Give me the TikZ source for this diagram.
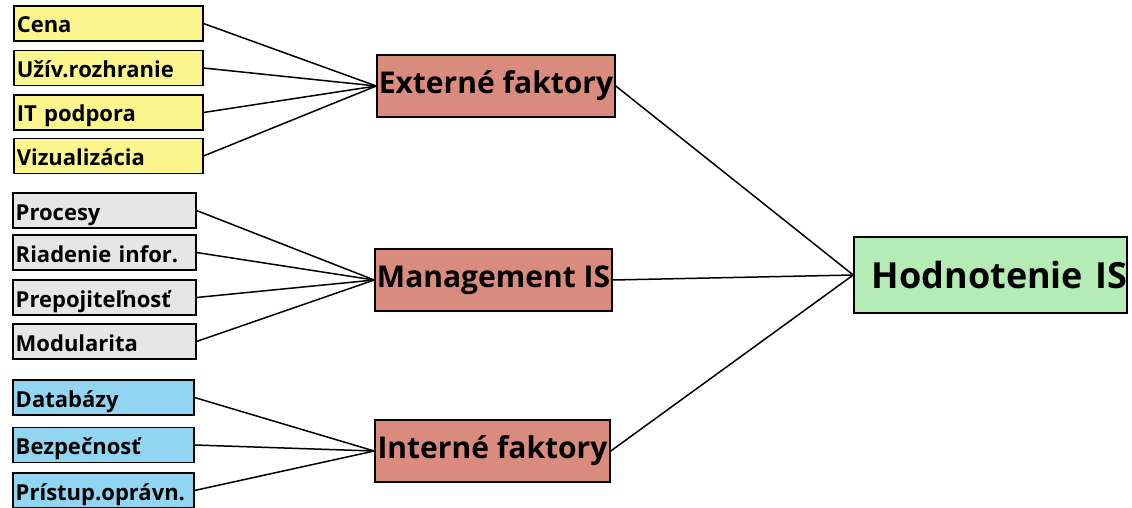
\documentclass[tikz,border=0pt]{standalone}
\usepackage{fontspec}
\setmainfont{Open Sans}

\definecolor{yellowbox}{RGB}{250,245,140}
\definecolor{greybox}{RGB}{230,230,230}
\definecolor{bluebox}{RGB}{145,213,240}
\definecolor{redbox}{RGB}{217,140,126}
\definecolor{greenbox}{RGB}{181,235,181}

\tikzset{
    factor/.style={draw, line width=1.5pt, anchor=west, minimum height=35pt, inner xsep=3pt, inner ysep=0pt, text height=19.5pt, text depth=0.5pt, align=left, font=\fontsize{22}{24}\selectfont\bfseries},
    group/.style={draw, line width=1.5pt, fill=redbox, minimum height=62pt, inner sep=0pt, font=\fontsize{30}{34}\selectfont\bfseries},
    link/.style={line width=1.5pt}
}

\begin{document}
\begin{tikzpicture}[x=1pt, y=-1pt]
\useasboundingbox (0,0) rectangle (1132,508);
% hodnotenie
\node [draw, line width=1.5pt, fill=greenbox, text width=273pt, minimum height=76pt, inner sep=0pt, align=right, font=\fontsize{36}{40}\selectfont\bfseries] (hodnotenie) at (990.5,275) {Hodnotenie IS};
% skupiny
\node [group, minimum width=238pt] (externe) at (496,86) {Externé faktory};
\node [group, minimum width=237pt] (management) at (493.5,280) {Management IS};
\node [group, minimum width=235pt] (interne) at (492.5,451) {Interné faktory};
% externe faktory
\node [factor, fill=yellowbox, text width=183pt] (cena) at (13,23.5) {Cena};
\node [factor, fill=yellowbox, text width=183pt] (rozhranie) at (13,68) {Užív.rozhranie};
\node [factor, fill=yellowbox, text width=183pt] (podpora) at (13,112.5) {IT podpora};
\node [factor, fill=yellowbox, text width=183pt] (vizualizacia) at (13,156) {Vizualizácia};
% management IS
\node [factor, fill=greybox, text width=177pt] (procesy) at (12,210.5) {Procesy};
\node [factor, fill=greybox, text width=177pt] (riadenie) at (12,252.5) {Riadenie infor.};
\node [factor, fill=greybox, text width=177pt] (prepojitelnost) at (12,297.5) {Prepojiteľnosť};
\node [factor, fill=greybox, text width=177pt] (modularita) at (12,341.5) {Modularita};
% interne faktory
\node [factor, fill=bluebox, text width=175pt] (databazy) at (12,397.5) {Databázy};
\node [factor, fill=bluebox, text width=175pt] (bezpecnost) at (12,445) {Bezpečnosť};
\node [factor, fill=bluebox, text width=175pt] (pristup) at (12,490.5) {Prístup.oprávn.};

\draw [link] (cena.east) -- (externe.west);
\draw [link] (rozhranie.east) -- (externe.west);
\draw [link] (podpora.east) -- (externe.west);
\draw [link] (vizualizacia.east) -- (externe.west);
\draw [link] (procesy.east) -- (management.west);
\draw [link] (riadenie.east) -- (management.west);
\draw [link] (prepojitelnost.east) -- (management.west);
\draw [link] (modularita.east) -- (management.west);
\draw [link] (databazy.east) -- (interne.west);
\draw [link] (bezpecnost.east) -- (interne.west);
\draw [link] (pristup.east) -- (interne.west);
\draw [link] (externe.east) -- (hodnotenie.west);
\draw [link] (management.east) -- (hodnotenie.west);
\draw [link] (interne.east) -- (hodnotenie.west);
\end{tikzpicture}
\end{document}
